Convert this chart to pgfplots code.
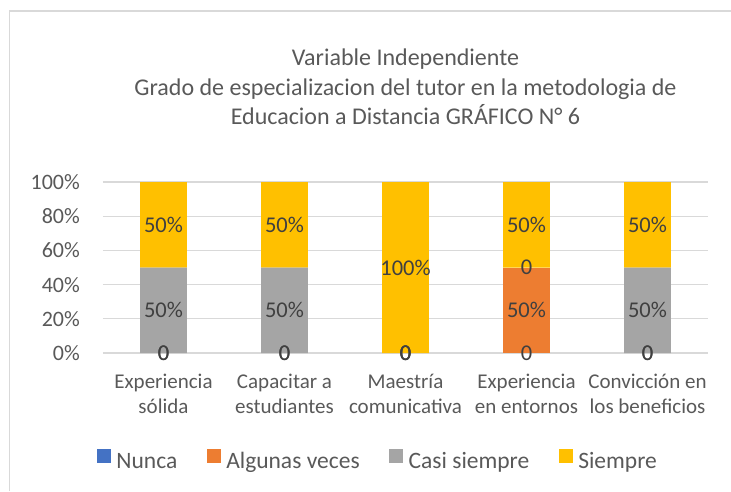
\documentclass[border=0pt]{standalone}
\usepackage{pgfplots}
\pgfplotsset{compat=1.18}
\usepackage{fontspec}
\setmainfont{Carlito}
\definecolor{cNunca}{HTML}{4472C4}
\definecolor{cAlg}{HTML}{ED7D31}
\definecolor{cCasi}{HTML}{A5A5A5}
\definecolor{cSiem}{HTML}{FFC000}
\definecolor{txt}{HTML}{595959}
\definecolor{lbl}{HTML}{404040}
\definecolor{gridc}{HTML}{D9D9D9}
% label positions of the zero values (Nunca, Algunas veces, Casi siempre)
\pgfplotstableread{
x y lab
0 0 0
1 0 0
2 0 0
3 0 0
4 0 0
0 0 0
1 0 0
2 0 0
4 0 0
2 0 0
3 50 0
}\zerolabels
% label positions of the non-zero values
\pgfplotstableread{
x y lab
3 25 50
0 25 50
1 25 50
4 25 50
0 75 50
1 75 50
2 50 100
3 75 50
4 75 50
}\pctlabels
\begin{document}
\begin{tikzpicture}
\useasboundingbox (0,0) rectangle (731pt,491pt);
\draw[gridc, line width=1.5pt] (9.5pt,0) -- (9.5pt,480pt) -- (731pt,480pt);
\begin{axis}[
  at={(103pt,138pt)}, anchor=south west,
  scale only axis, width=605pt, height=171pt,
  ybar stacked, bar width=0.388,
  xmin=-0.5, xmax=4.5, ymin=0, ymax=100,
  xtick={0,1,2,3,4},
  xticklabels={{\strut Experiencia\\sólida},{\strut Capacitar a\\estudiantes},{\strut Maestría\\comunicativa},{\strut Experiencia\\en entornos},{\strut Convicción en\\los beneficios}},
  ytick={0,20,40,60,80,100},
  yticklabels={0\%,20\%,40\%,60\%,80\%,100\%},
  major tick length=0pt,
  axis line style={draw=none},
  ymajorgrids, major grid style={gridc, line width=1.3pt},
  xticklabel style={font=\fontsize{21}{25.5}\selectfont, text=txt, align=center, anchor=north, inner sep=0pt, yshift=-17pt},
  yticklabel style={font=\fontsize{22}{26}\selectfont, text=txt, anchor=east, inner sep=0pt, xshift=-23pt},
  title={\strut Variable Independiente\\Grado de especializacion del tutor en la metodologia de\\Educacion a Distancia GRÁFICO N° 6},
  title style={font=\fontsize{24}{29.5}\selectfont, text=txt, align=center, anchor=north, at={(0.5,1)}, yshift=131pt, inner sep=0pt},
  legend columns=4,
  legend cell align=left,
  legend style={draw=none, fill=none, at={(-0.0104,-0.6316)}, anchor=west, inner sep=0pt, outer sep=0pt, font=\fontsize{23.5}{28}\selectfont, nodes={inner sep=0pt, text height=16pt, text depth=5pt, text=txt}, /tikz/every odd column/.append style={column sep=5.7pt}, /tikz/every even column/.append style={column sep=29.3pt}},
  legend image code/.code={\fill[#1] (0pt,0pt) rectangle (14pt,14pt);},
]
\addplot[fill=cNunca, draw=none] table[x=x, y=v] {
x v
0 0
1 0
2 0
3 0
4 0
};
\addlegendentry{Nunca}
\addplot[fill=cAlg, draw=none] table[x=x, y=v] {
x v
0 0
1 0
2 0
3 50
4 0
};
\addlegendentry{Algunas veces}
\addplot[fill=cCasi, draw=none] table[x=x, y=v] {
x v
0 50
1 50
2 0
3 0
4 50
};
\addlegendentry{Casi siempre}
\addplot[fill=cSiem, draw=none] table[x=x, y=v] {
x v
0 50
1 50
2 100
3 50
4 50
};
\addlegendentry{Siempre}
\end{axis}
\begin{axis}[
  at={(103pt,138pt)}, anchor=south west,
  scale only axis, width=605pt, height=171pt,
  xmin=-0.5, xmax=4.5, ymin=0, ymax=100,
  hide axis, clip=false,
  point meta=explicit symbolic,
  every node near coord/.append style={font=\fontsize{22.5}{26}\selectfont, text=lbl, anchor=center, inner sep=0pt},
]
\addplot[draw=none, mark=none, nodes near coords={\pgfplotspointmeta}] table[x=x, y=y, meta=lab] {\zerolabels};
\addplot[draw=none, mark=none, nodes near coords={\pgfplotspointmeta\%}] table[x=x, y=y, meta=lab] {\pctlabels};
\end{axis}
\end{tikzpicture}
\end{document}
